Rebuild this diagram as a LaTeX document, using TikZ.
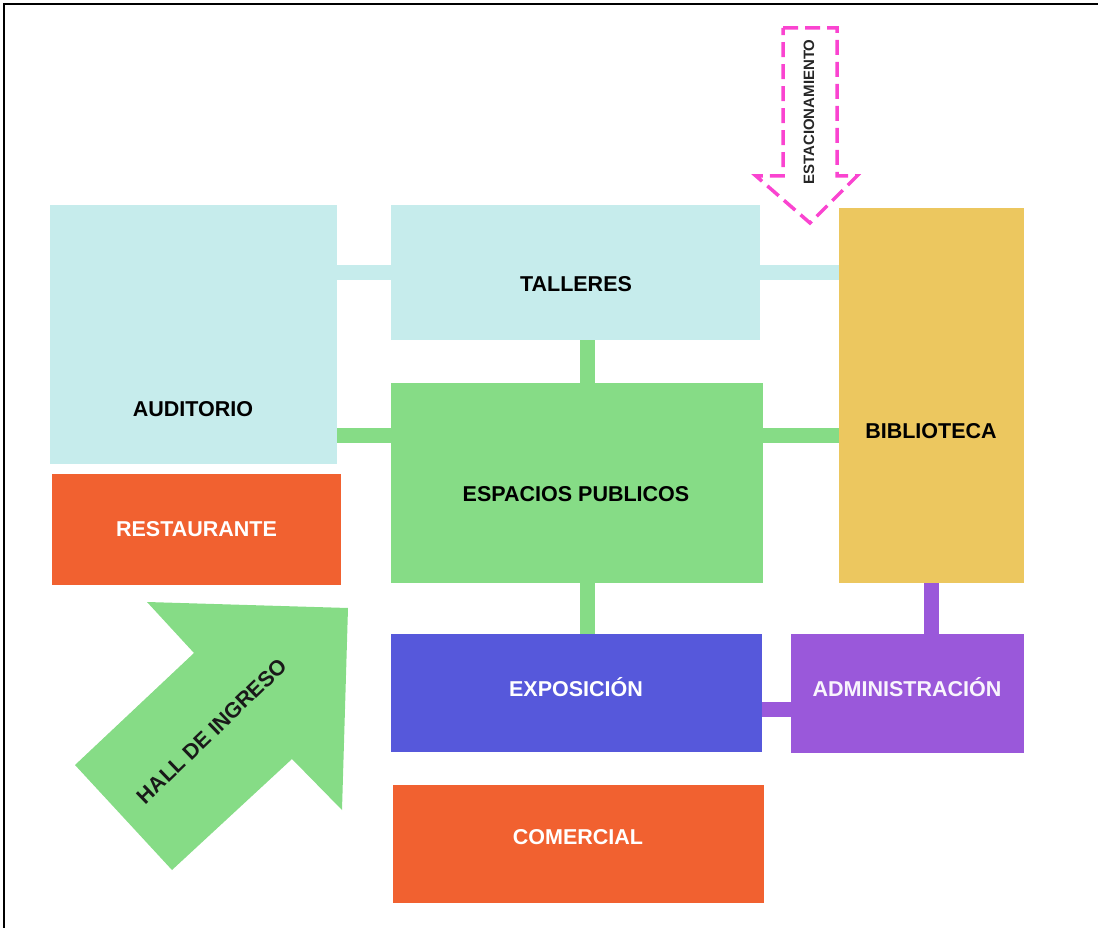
\documentclass[tikz,border=0pt]{standalone}
\usepackage{fontspec}
\setmainfont{Liberation Sans}
\definecolor{cyanbox}{HTML}{C6ECEC}
\definecolor{greenbox}{HTML}{86DC86}
\definecolor{biblio}{HTML}{ECC75F}
\definecolor{orangebox}{HTML}{F16130}
\definecolor{expo}{HTML}{5658DB}
\definecolor{admin}{HTML}{9A58DA}
\definecolor{magentadash}{HTML}{FA44D0}
\begin{document}
\begin{tikzpicture}[x=1pt,y=-1pt,
  room/.style={rectangle, inner sep=0pt, draw=none, align=center,
    font=\fontsize{21.5}{25}\selectfont\bfseries},
  conn/.style={line width=15pt},
]
\useasboundingbox (0,0) rectangle (1098,928);
% frame (top and left only)
\draw[line width=2.5pt] (3,4) -- (1098,4);
\draw[line width=2pt] (4,4) -- (4,928);

% rooms
\node[room, fill=cyanbox, minimum width=287pt, minimum height=259pt] (aud) at (193.5,334.5) {};
\node[room] at (193,409) {AUDITORIO};
\node[room, fill=cyanbox, minimum width=369pt, minimum height=135pt] (tal) at (575.5,272.5) {};
\node[room] at (576,284) {TALLERES};
\node[room, fill=biblio, minimum width=185pt, minimum height=375pt] (bib) at (931.5,395.5) {};
\node[room] at (931,431) {BIBLIOTECA};
\node[room, fill=greenbox, minimum width=372pt, minimum height=200pt] (esp) at (577,483) {};
\node[room] at (576,494) {ESPACIOS PUBLICOS};
\node[room, fill=orangebox, text=white, minimum width=289pt, minimum height=111pt] (res) at (196.5,529.5) {RESTAURANTE};
\node[room, fill=expo, minimum width=371pt, minimum height=118pt] (exp) at (576.5,693) {};
\node[room, text=white] at (576,687) {EXPOSICIÓN};
\node[room, fill=admin, minimum width=233pt, minimum height=119pt] (adm) at (907.5,693.5) {};
\node[room, text=white!94!admin] at (907,687) {ADMINISTRACIÓN};
\node[room, fill=orangebox, text=white, minimum width=371pt, minimum height=118pt] (com) at (578.5,844) {};
\node[room, text=white] at (578,837) {COMERCIAL};

% connector helper coordinates
\coordinate (yAE) at (0,435.5);
\coordinate (xTE) at (587,0);
\coordinate (yXA) at (0,709.5);

% connectors
\draw[conn, cyanbox] (aud.east |- tal.west) -- (tal.west);
\draw[conn, cyanbox] (tal.east) -- (tal.east -| bib.west);
\draw[conn, greenbox] (aud.east |- yAE) -- (esp.west |- yAE);
\draw[conn, greenbox] (esp.east |- yAE) -- (bib.west |- yAE);
\draw[conn, greenbox] (tal.south -| xTE) -- (esp.north -| xTE);
\draw[conn, greenbox] (esp.south -| xTE) -- (exp.north -| xTE);
\draw[conn, admin] (exp.east |- yXA) -- (adm.west |- yXA);
\draw[conn, admin] (bib.south) -- (bib.south |- adm.north);

% estacionamiento arrow
\draw[magentadash, line width=3.5pt, dash pattern=on 15pt off 7pt]
  (783,28) -- (837,28) -- (837,176) -- (857,176) -- (810,223) -- (756,176) -- (783,176) -- cycle;
\node[room, rotate=90, font=\fontsize{15}{17}\selectfont\bfseries, text=black!85] (est) at (809,112) {ESTACIONAMIENTO};

% hall de ingreso arrow
\fill[greenbox] (147,602) -- (348,608) -- (342,810) -- (292,759) -- (172,870) -- (75,765) -- (194,653) -- cycle;
\node[room, rotate=44, text=black!90] (hall) at (212,731) {HALL DE INGRESO};
\end{tikzpicture}
\end{document}
